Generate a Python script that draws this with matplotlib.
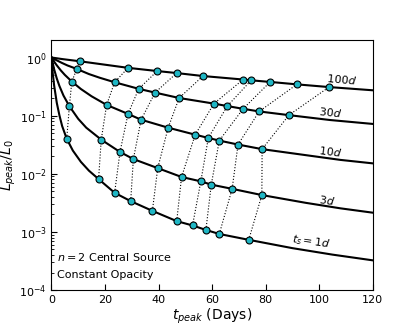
import numpy as np
import matplotlib
matplotlib.use('Agg')
import matplotlib.pyplot as plt

# marker positions on each t_s curve
t_1d = [5.7, 17.6, 23.6, 29.6, 37.7, 46.8, 52.7, 57.7, 62.7, 73.7]
L_1d = [0.040, 0.0081, 0.0047, 0.00338, 0.0023, 0.00153, 0.00129, 0.00108, 0.00092, 0.00073]
t_3d = [6.7, 18.6, 25.6, 30.6, 39.7, 48.6, 55.8, 59.7, 67.5, 78.6]
L_3d = [0.145, 0.0386, 0.0237, 0.0179, 0.0125, 0.0088, 0.0074, 0.0065, 0.0055, 0.0043]
t_10d = [7.6, 20.6, 28.6, 33.5, 43.6, 53.7, 58.6, 62.7, 69.7, 78.7]
L_10d = [0.386, 0.153, 0.107, 0.085, 0.062, 0.047, 0.0413, 0.0372, 0.0318, 0.0265]
t_30d = [9.5, 23.6, 32.6, 38.7, 47.7, 60.7, 65.7, 71.6, 77.6, 88.7]
L_30d = [0.635, 0.375, 0.289, 0.249, 0.201, 0.161, 0.146, 0.131, 0.118, 0.102]
t_100d = [10.7, 28.6, 39.5, 46.8, 56.6, 71.6, 74.6, 81.7, 91.7, 103.7]
L_100d = [0.86, 0.664, 0.585, 0.54, 0.48, 0.418, 0.405, 0.38, 0.345, 0.31]

# extra points along the curves (start and tail)
t_1d_a = [0, 0.5, 1, 2, 3, 4]
L_1d_a = [1, 0.52, 0.33, 0.165, 0.10, 0.066]
t_1d_b = [8, 11, 14]
L_1d_b = [0.025, 0.016, 0.0113]
t_1d_c = [90, 105, 120]
L_1d_c = [5.25e-4, 4.06e-4, 3.24e-4]

t_3d_a = [0, 1, 2, 3, 4.5]
L_3d_a = [1, 0.626, 0.434, 0.321, 0.221]
t_3d_b = [10, 13]
L_3d_b = [0.088, 0.062]
t_3d_c = [95, 108, 120]
L_3d_c = [0.00316, 0.00254, 0.00214]

t_10d_a = [0, 1, 2, 3.5, 5]
L_10d_a = [1, 0.849, 0.732, 0.599, 0.502]
t_10d_b = [11, 15]
L_10d_b = [0.287, 0.215]
t_10d_c = [95, 108, 120]
L_10d_c = [0.0209, 0.0173, 0.0151]

t_30d_a = [0, 2, 4, 6]
L_30d_a = [1, 0.893, 0.803, 0.729]
t_30d_b = [14, 18]
L_30d_b = [0.519, 0.449]
t_30d_c = [104, 120]
L_30d_c = [0.0841, 0.072]

t_100d_a = [0, 4]
L_100d_a = [1, 0.94]
t_100d_c = [120]
L_100d_c = [0.273]

labels = [r'$t_s = 1d$', r'$3d$', r'$10d$', r'$30d$', r'$100d$']
label_t = [96.8, 102.9, 104.2, 104.0, 108.5]
label_L = [6.7e-4, 3.56e-3, 0.0242, 0.116, 0.42]
label_rot = [-8, -8, -7, -6, -5]

marks_t = [t_1d, t_3d, t_10d, t_30d, t_100d]
marks_L = [L_1d, L_3d, L_10d, L_30d, L_100d]
curves_t = [t_1d_a + [t_1d[0]] + t_1d_b + t_1d[1:] + t_1d_c,
            t_3d_a + [t_3d[0]] + t_3d_b + t_3d[1:] + t_3d_c,
            t_10d_a + [t_10d[0]] + t_10d_b + t_10d[1:] + t_10d_c,
            t_30d_a + [t_30d[0]] + t_30d_b + t_30d[1:] + t_30d_c,
            t_100d_a + t_100d + t_100d_c]
curves_L = [L_1d_a + [L_1d[0]] + L_1d_b + L_1d[1:] + L_1d_c,
            L_3d_a + [L_3d[0]] + L_3d_b + L_3d[1:] + L_3d_c,
            L_10d_a + [L_10d[0]] + L_10d_b + L_10d[1:] + L_10d_c,
            L_30d_a + [L_30d[0]] + L_30d_b + L_30d[1:] + L_30d_c,
            L_100d_a + L_100d + L_100d_c]

fig = plt.figure(figsize=(4.15, 3.32), dpi=100)
ax = fig.add_axes([0.124, 0.1265, 0.774, 0.753])

for ct, cL in zip(curves_t, curves_L):
    ax.plot(ct, cL, color='black', lw=1.5, zorder=2)

# dotted lines joining the same run across curves
for j in range(len(t_1d)):
    xs = [m[j] for m in marks_t]
    ys = [m[j] for m in marks_L]
    ax.plot(xs, ys, ls=':', color='black', lw=0.8, zorder=1)

for mt, mL in zip(marks_t, marks_L):
    ax.plot(mt, mL, 'o', ms=5, mfc='#1fb6c4', mec='black', mew=0.8, zorder=3)

for s, x, y, r in zip(labels, label_t, label_L, label_rot):
    ax.text(x, y, s, fontsize=8, rotation=r, ha='center', va='center')

ax.text(0.017, 0.133, r'$n = 2$ Central Source', transform=ax.transAxes, fontsize=8, va='center')
ax.text(0.017, 0.06, 'Constant Opacity', transform=ax.transAxes, fontsize=8, va='center')

ax.set_yscale('log')
ax.set_xlim(0, 120)
ax.set_ylim(1e-4, 2)
ax.set_xticks([0, 20, 40, 60, 80, 100, 120])
ax.tick_params(which='both', direction='in', labelsize=8, top=False, right=False)
ax.tick_params(which='major', length=4)
ax.tick_params(which='minor', length=2)
ax.set_xlabel(r'$t_{peak}$ (Days)', fontsize=10, labelpad=1)
ax.set_ylabel(r'$L_{peak}/L_0$', fontsize=10, labelpad=1)

fig.savefig('out.png', dpi=100)
